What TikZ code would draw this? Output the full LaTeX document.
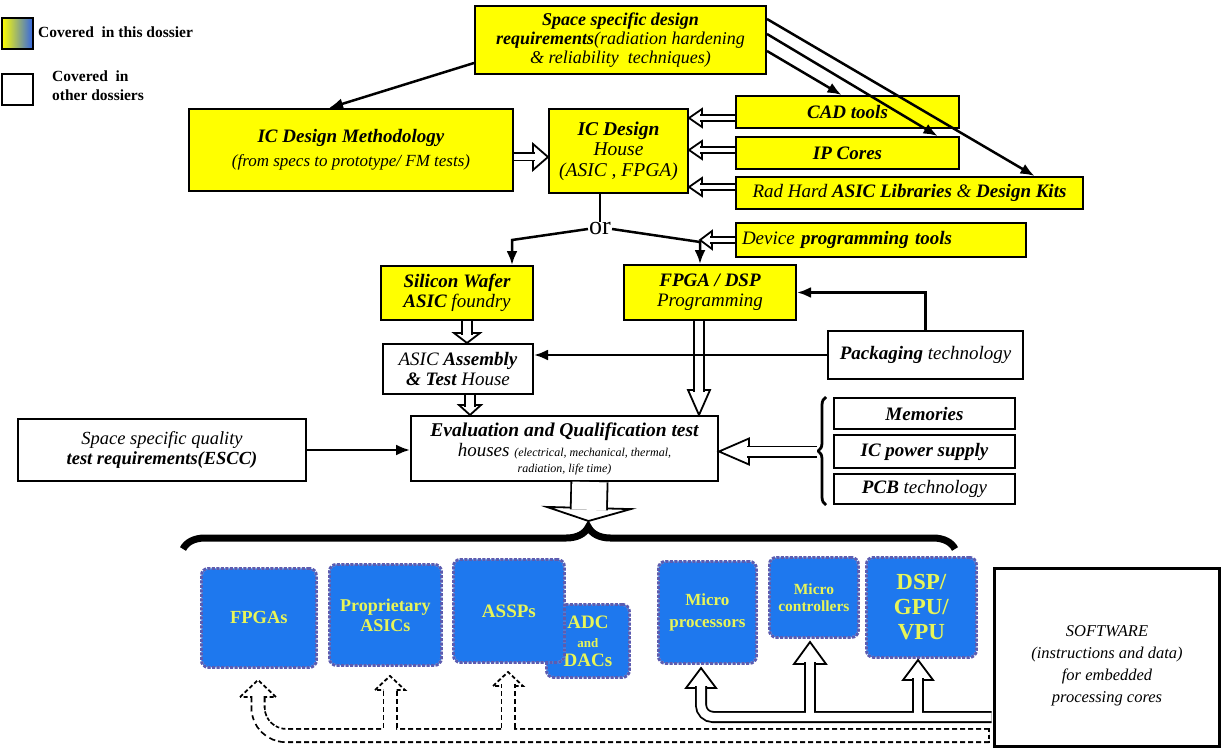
\documentclass[tikz,border=0pt]{standalone}
\usepackage{fontspec}
\setmainfont{Liberation Serif}
\usetikzlibrary{arrows.meta, calc, decorations.pathreplacing}
\definecolor{boxyellow}{RGB}{255,255,0}
\definecolor{chipblue}{RGB}{30,120,238}
\definecolor{chipedge}{RGB}{92,92,176}
\definecolor{chiptext}{RGB}{232,245,88}
\definecolor{legendblue}{RGB}{50,100,228}
\newcommand{\fsz}[2]{\fontsize{#1}{#2}\selectfont}
%% hollow block arrow: start, tip, shaft width, half head width, head length
\newcommand{\harrow}[5]{%
  \coordinate (hb) at ($(#2)!#5!(#1)$);
  \coordinate (hx) at ($(hb)!1.8pt!(#2)$);
  \draw[line width=1.8pt, fill=white] ($(hb)!#4!90:(#2)$) -- (#2) -- ($(hb)!#4!-90:(#2)$) -- cycle;
  \draw[line width=#3] (#1) -- (hx);
  \draw[white, line width=#3-3.6pt] (#1) -- (hx);}
%% upward head for the feed arrows: [options], tip, half width, length
\newcommand{\uphead}[4][]{%
  \draw[line width=1.8pt, fill=white, #1] ([shift={(-#3,#4)}]#2) -- (#2) -- ([shift={(#3,#4)}]#2) -- cycle;}

\begin{document}
\begin{tikzpicture}[x=1pt, y=-1pt,
    every node/.style={inner sep=2pt},
    sz/.style 2 args={minimum width=#1, minimum height=#2},
    ybox/.style={draw, line width=2pt, fill=boxyellow, align=center,
                 anchor=north west, font=\itshape\fsz{19}{20}},
    wbox/.style={ybox, fill=white},
    chip/.style={preaction={draw=chipedge!45!white, line width=2.8pt, fill=chipblue},
                 draw=chipedge, line width=2.8pt, dash pattern=on 3pt off 1.5pt,
                 rounded corners=7pt, anchor=north west, align=center,
                 text=chiptext, font=\bfseries\fsz{18.5}{20}},
    arr/.style={line width=2.5pt, -{Latex[length=14pt,width=11pt]}},
    sout/.style={line width=12pt},
    sin/.style={white, line width=8.4pt},
    dout/.style={line width=15pt, dash pattern=on 5pt off 3pt},
    din/.style={white, line width=11.4pt}
  ]
  \useasboundingbox (0,0) rectangle (1230,751);

  %% Legend
  \node[draw, line width=1.8pt, left color=boxyellow, right color=legendblue,
        sz={31pt}{31pt}, anchor=north west] (lg1) at (1,17) {};
  \node[anchor=west, font=\bfseries\fsz{15.5}{16}] (lg1t) at (36,32) {Covered\ \ in this dossier};
  \node[draw, line width=1.8pt, sz={31pt}{31pt}, anchor=north west] (lg2) at (1,73) {};
  \node[anchor=north west, align=left, font=\bfseries\fsz{15.5}{19}] (lg2t) at (50,69) {Covered\ \ in\\other dossiers};

  %% Design flow
  \node[ybox, sz={291pt}{68pt}, font=\itshape\fsz{18}{19}] (spreq) at (474,5)
    {\textbf{Space specific design}\\\textbf{requirements}(radiation hardening\\\& reliability\ \ techniques)};
  \node[ybox, sz={324pt}{82pt}, font=\itshape\fsz{17}{20}] (meth) at (188,108)
    {{\fsz{19}{20}\textbf{IC Design Methodology}}\\[4pt](from specs to prototype/ FM tests)};
  \node[ybox, sz={139pt}{84pt}, font=\itshape\fsz{19.5}{20.5}] (house) at (548,108)
    {\textbf{IC Design}\\House\\(ASIC , FPGA)};
  \node[ybox, sz={223pt}{32pt}] (cad) at (735,95) {\textbf{CAD tools}};
  \node[ybox, sz={223pt}{32pt}] (ip) at (735,136) {\textbf{IP Cores}};
  \node[ybox, sz={347pt}{32pt}] (rad) at (735,176)
    {Rad Hard \textbf{ASIC Libraries} \& \textbf{Design Kits}};
  \node[ybox, sz={290pt}{34pt}, text width=278pt, align=left] (dev) at (735,222)
    {Device \textbf{programming tools}};
  \node[font=\fsz{26}{26}, inner sep=1pt] (orn) at (600,229) {or};
  \node[ybox, sz={152pt}{54pt}] (sil) at (380,265) {\textbf{Silicon Wafer}\\\textbf{ASIC} foundry};
  \node[ybox, sz={172pt}{55pt}] (fpga) at (623,264) {\textbf{FPGA / DSP}\\Programming};
  \node[wbox, sz={150pt}{50pt}] (asm) at (382,343) {ASIC \textbf{Assembly}\\\textbf{\& Test} House};
  \node[wbox, sz={195pt}{48pt}] (pack) at (827,330) {\textbf{Packaging} technology};
  \node[wbox, sz={307pt}{65pt}] (eval) at (410,415)
    {{\fsz{19.5}{20}\textbf{Evaluation and Qualification test}}\\{houses} {\fsz{12}{13}(electrical, mechanical, thermal,}\\[-4pt]{\fsz{12}{13}radiation, life time)}};
  \node[wbox, sz={288pt}{62pt}, font=\itshape\fsz{18.5}{20}] (qual) at (17,418)
    {Space specific quality\\\textbf{test requirements(ESCC)}};
  \node[wbox, sz={181pt}{31pt}] (mem) at (833,397) {\textbf{Memories}};
  \node[wbox, sz={181pt}{33pt}] (ipw) at (833,434) {\textbf{IC power supply}};
  \node[wbox, sz={181pt}{30pt}] (pcb) at (833,473) {\textbf{PCB} technology};

  %% Processing cores
  \node[chip, sz={115pt}{99pt}] (fpgas) at (200,567) {FPGAs};
  \node[chip, sz={112pt}{101pt}, font=\bfseries\fsz{18}{20}] (prop) at (328,563) {Proprietary\\ASICs};
  \node[chip, sz={83pt}{73pt}, font=\bfseries\fsz{19}{19}] (adc) at (545,603) {ADC\\{\fsz{13}{13}and}\\DACs};
  \node[chip, sz={111pt}{103pt}, font=\bfseries\fsz{19}{20}] (assp) at (452,558) {ASSPs};
  \node[chip, sz={98pt}{102pt}, font=\bfseries\fsz{17}{22}] (mproc) at (657,560) {Micro\\processors};
  \node[chip, sz={89pt}{80pt}, font=\bfseries\fsz{15.5}{17}] (mctrl) at (768,556) {Micro\\controllers};
  \node[chip, sz={110pt}{100pt}, font=\bfseries\fsz{23}{25}] (dsp) at (865,556) {DSP/\\GPU/\\VPU};
  \node[wbox, line width=3pt, sz={225pt}{178pt}, font=\itshape\fsz{16.5}{22}] (sw) at (993,567)
    {\rule{0pt}{27pt}SOFTWARE\\(instructions and data)\\for embedded\\processing cores};

  %% Requirement arrows
  \draw[arr] ([yshift=-23pt]spreq.west) -- ([xshift=-22pt]meth.north);
  \draw[arr] ([yshift=-11pt]spreq.east) -- ([xshift=-6pt]cad.north);
  \draw[arr] ([yshift=6pt]spreq.east) -- ([xshift=90pt]ip.north);
  \draw[arr] ([yshift=21pt]spreq.east) -- ([xshift=125pt]rad.north);

  %% Hollow arrows
  \coordinate (m1) at ([yshift=-7pt]meth.east);
  \coordinate (m2) at (m1 -| house.west);
  \harrow{m1}{m2}{9pt}{13pt}{15pt}
  \foreach \b/\s in {cad/-6, ip/3, rad/6} {
    \coordinate (p1) at ([yshift=\s pt]\b.west);
    \coordinate (p2) at (p1 -| house.east);
    \harrow{p1}{p2}{8pt}{9pt}{13pt}
  }

  %% or
  \draw[line width=2.5pt] (orn.north) -- (orn.north |- house.south);
  \coordinate (kL) at (512,240);
  \coordinate (kR) at (700,242);
  \draw[arr] (orn.west) -- (kL) -- (kL |- sil.north);
  \draw[arr] (orn.east) -- (kR) -- (kR |- fpga.north);
  \coordinate (dv) at (kR |- dev.west);
  \harrow{dev.west}{dv}{8pt}{9pt}{12pt}

  \coordinate (s1) at ([xshift=10pt]sil.south);
  \coordinate (s2) at (s1 |- asm.north);
  \harrow{s1}{s2}{12pt}{13pt}{10pt}
  \coordinate (e1) at ([xshift=12pt]asm.south);
  \coordinate (e2) at (e1 |- eval.north);
  \harrow{e1}{e2}{12pt}{11pt}{10pt}
  \coordinate (f1) at ([xshift=-11pt]fpga.south);
  \coordinate (f2) at (f1 |- eval.north);
  \harrow{f1}{f2}{12pt}{11pt}{25pt}

  \draw[arr] (pack.north) |- (fpga.east);
  \draw[arr] (pack.west) -- (pack.west -| asm.east);
  \draw[arr] (qual.east) -- (qual.east -| eval.west);

  %% Braces
  \draw[line width=2.8pt, decorate, decoration={brace, amplitude=8pt}]
    ([xshift=-7pt]pcb.south west) -- ([xshift=-7pt]mem.north west);
  \coordinate (brc) at ([xshift=-16pt]ipw.west);
  \coordinate (b2) at (brc -| eval.east);
  \harrow{brc}{b2}{12pt}{13pt}{30pt}

  \coordinate (bl) at (183,549);
  \coordinate (br) at (955,549);
  \draw[line width=7pt, decorate, decoration={brace, amplitude=22pt, aspect=0.525}] (bl) -- (br);
  \coordinate (v1) at ([xshift=25pt]eval.south);
  \coordinate (v2) at (588.5,521);
  \harrow{v1}{v2}{38pt}{42pt}{13pt}

  %% Software feeds
  \coordinate (sb0) at ($(sw.west |- 0,717)+(-1.5,0)$);
  \coordinate (sbc) at (701,717);
  \coordinate (tp1) at (701,668);
  \coordinate (tp2) at (810,642);
  \coordinate (tp3) at (918,660);
  \uphead{tp1}{15}{20}
  \uphead{tp2}{16}{22}
  \uphead{tp3}{15}{20}
  \foreach \s in {sout, sin} {
    \draw[\s, rounded corners=12pt] (sb0) -- (sbc) -- ([yshift=-18.2pt]tp1);
    \draw[\s] (tp2 |- sb0) -- ([yshift=-20.2pt]tp2);
    \draw[\s] (tp3 |- sb0) -- ([yshift=-18.2pt]tp3);
  }

  \coordinate (db0) at (989,735.5);
  \coordinate (dbc) at (258,735.5);
  \coordinate (tq1) at (258,680);
  \coordinate (tq2) at (390,676);
  \coordinate (tq3) at (508,672);
  \uphead[dash pattern=on 4pt off 2.5pt]{tq1}{18}{17}
  \uphead[dash pattern=on 4pt off 2.5pt]{tq2}{15}{14}
  \uphead[dash pattern=on 4pt off 2.5pt]{tq3}{15}{14}
  \foreach \s in {dout, din} {
    \draw[\s, rounded corners=28pt] (db0) -- (dbc) -- ([yshift=-15.2pt]tq1);
    \draw[\s] (tq2 |- db0) -- ([yshift=-12.2pt]tq2);
    \draw[\s] (tq3 |- db0) -- ([yshift=-12.2pt]tq3);
  }
  \draw[line width=1.8pt, dash pattern=on 4pt off 2.5pt] ([yshift=7.5pt]db0) -- ([yshift=-7.5pt]db0);
\end{tikzpicture}
\end{document}
